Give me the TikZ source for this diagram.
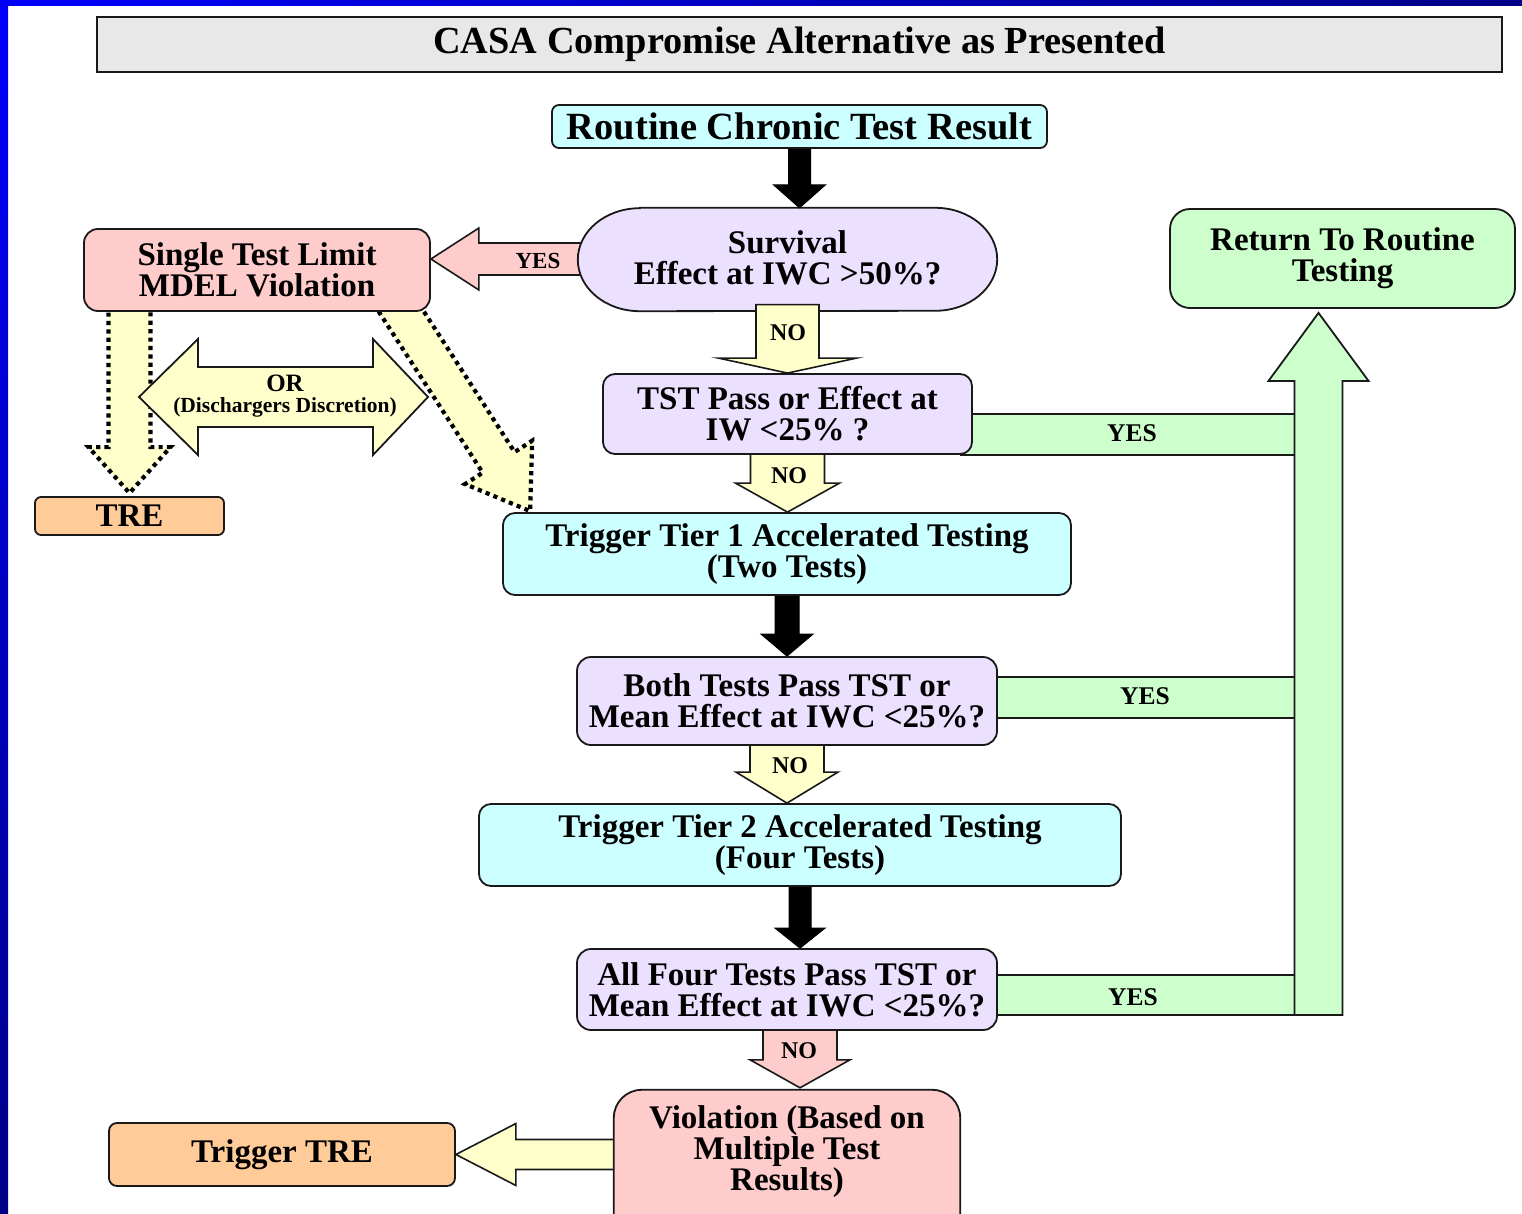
\documentclass[tikz,border=0pt]{standalone}
\usepackage{fontspec}
\setmainfont{Liberation Serif}
\usetikzlibrary{calc}
\pgfdeclarelayer{base}
\pgfdeclarelayer{back}
\pgfsetlayers{base,back,main}

\definecolor{cyanbox}{RGB}{204,255,255}
\definecolor{lavbox}{RGB}{236,224,255}
\definecolor{pinkbox}{RGB}{255,204,204}
\definecolor{greenbox}{RGB}{204,255,204}
\definecolor{orangebox}{RGB}{255,204,153}
\definecolor{yellowarr}{RGB}{255,255,204}
\definecolor{titlegray}{RGB}{232,232,232}
\definecolor{edge}{RGB}{25,25,25}
\definecolor{framebright}{RGB}{0,0,250}
\definecolor{framedark}{RGB}{0,0,135}

% block arrow: #1 style, #2 tail, #3 tip, #4 half shaft, #5 half head, #6 head length
\newcommand{\blockarrow}[6]{%
  \coordinate (bahead) at ($(#3)!#6!(#2)$);
  \draw[#1] ($(#2)!#4!90:(#3)$) -- ($(bahead)!#4!90:(#3)$) -- ($(bahead)!#5!90:(#3)$) -- (#3)
    -- ($(bahead)!#5!-90:(#3)$) -- ($(bahead)!#4!-90:(#3)$) -- ($(#2)!#4!-90:(#3)$) -- cycle;}

\begin{document}
\begin{tikzpicture}[x=1pt,y=-1pt,
  box/.style={draw=edge, line width=1.8pt, inner sep=0pt, align=center,
    font=\bfseries\fontsize{33}{31}\selectfont},
  txt/.style={inner sep=0pt, align=center, font=\bfseries\fontsize{33}{31}\selectfont},
  lbl/.style={inner sep=0pt, font=\bfseries\fontsize{24}{24}\selectfont},
  lblg/.style={inner sep=0pt, font=\bfseries\fontsize{25.5}{25}\selectfont},
  blk/.style={fill=black, draw=black, line width=1pt},
  yarr/.style={fill=yellowarr, draw=edge, line width=1.6pt},
  parr/.style={fill=pinkbox, draw=edge, line width=1.6pt},
  garr/.style={fill=greenbox, draw=edge, line width=1.8pt},
  dotarr/.style={fill=yellowarr, draw=black, line width=4.2pt, dash pattern=on 4.2pt off 4.2pt},
]
\path[use as bounding box] (0,0) rectangle (1522,1214);

\begin{pgfonlayer}{base}
  \fill[white] (0,0) rectangle (1522,1214);
  % slide frame
  \shade[top color=framebright, bottom color=framedark] (0,0) rectangle (8,1214);
  \shade[left color=framebright, right color=framedark] (0,0) rectangle (1522,6);
\end{pgfonlayer}

% boxes
\node[box, fill=titlegray, line width=2.2pt, minimum width=1405pt, minimum height=55pt,
  font=\bfseries\fontsize{38.3}{38}\selectfont] (title) at (799.5,44.5)
  {CASA Compromise Alternative as Presented};
\node[box, fill=cyanbox, rounded corners=7pt, minimum width=495pt, minimum height=43pt,
  font=\bfseries\fontsize{38.5}{38}\selectfont] (routine) at (799.5,126.5)
  {Routine Chronic Test Result};
\node[txt, minimum width=419pt, minimum height=103pt] (surv) at (787.5,258)
  {Survival\\Effect at IWC >50\%?};
\node[box, fill=pinkbox, rounded corners=14pt, minimum width=346pt, minimum height=82pt]
  (single) at (257,270) {Single Test Limit\\MDEL Violation};
\node[box, fill=greenbox, rounded corners=20pt, minimum width=345pt, minimum height=99pt]
  (ret) at (1342.5,258.5) {Return To Routine\\Testing};
\node[box, fill=lavbox, rounded corners=12pt, minimum width=369pt, minimum height=80pt]
  (tst) at (787.5,414) {TST Pass or Effect at\\IW <25\% ?};
\node[box, fill=orangebox, rounded corners=6pt, minimum width=189pt, minimum height=38pt]
  (tre) at (129.5,516) {TRE};
\node[box, fill=cyanbox, rounded corners=12pt, minimum width=568pt, minimum height=82pt]
  (tier1) at (787,554) {Trigger Tier 1 Accelerated Testing\\(Two Tests)};
\node[box, fill=lavbox, rounded corners=14pt, minimum width=420pt, minimum height=88pt]
  (both) at (787,701) {Both Tests Pass TST or\\Mean Effect at IWC <25\%?};
\node[box, fill=cyanbox, rounded corners=12pt, minimum width=642pt, minimum height=82pt]
  (tier2) at (800,845) {Trigger Tier 2 Accelerated Testing\\(Four Tests)};
\node[box, fill=lavbox, rounded corners=14pt, minimum width=420pt, minimum height=81pt]
  (allfour) at (787,989.5) {All Four Tests Pass TST or\\Mean Effect at IWC <25\%?};
\node[txt, minimum width=346pt, minimum height=124pt] (viol) at (787,1152)
  {Violation (Based on\\Multiple Test\\Results)};
\node[box, fill=orangebox, rounded corners=8pt, minimum width=346pt, minimum height=63pt]
  (trig) at (282,1154.5) {Trigger TRE};

% arrow labels
\node[lbl, font=\bfseries\fontsize{23}{23}\selectfont] (yes0) at (538,261) {YES};
\node[lbl] (no1) at (788,333) {NO};
\node[lbl] (no2) at (789,476) {NO};
\node[lbl] (no3) at (790,766) {NO};
\node[lbl] (no4) at (799,1051) {NO};
\node[lblg] (yes1) at (1132,433) {YES};
\node[lblg] (yes2) at (1145,696) {YES};
\node[lblg] (yes3) at (1133,997) {YES};
\node[inner sep=0pt, align=center] (ortext) at (285,396)
  {{\bfseries\fontsize{25}{25}\selectfont OR}\\[5pt]
   {\bfseries\fontsize{21.5}{21}\selectfont (Dischargers Discretion)}};

\begin{pgfonlayer}{back}
  % survival: YES to single test limit
  \coordinate (yA) at ([xshift=10pt,yshift=-1pt]surv.west);
  \coordinate (yB) at (single.east |- yA);
  \blockarrow{parr}{yA}{yB}{16pt}{31pt}{48pt}
  % survival outline (elliptic ends)
  \draw[fill=lavbox, draw=edge, line width=1.8pt]
    ([xshift=62pt,yshift=-1.5pt]surv.north west) -- ([xshift=-62pt,yshift=-1.5pt]surv.north east)
    arc[start angle=90, end angle=-90, x radius=62pt, y radius=51.5pt]
    -- ([xshift=62pt,yshift=-1.5pt]surv.south west)
    arc[start angle=270, end angle=90, x radius=62pt, y radius=51.5pt] -- cycle;

  % black flow arrows
  \coordinate (k1a) at ([yshift=5pt]routine.south);
  \coordinate (k1b) at ([yshift=-1.5pt]routine.south |- surv.north);
  \blockarrow{blk}{k1a}{k1b}{11pt}{26pt}{23pt}
  \coordinate (k2a) at ([yshift=5pt]tier1.south);
  \coordinate (k2b) at (tier1.south |- both.north);
  \blockarrow{blk}{k2a}{k2b}{12pt}{26pt}{22pt}
  \coordinate (k3a) at ([yshift=5pt]tier2.south);
  \coordinate (k3b) at (tier2.south |- allfour.north);
  \blockarrow{blk}{k3a}{k3b}{11pt}{25pt}{20pt}

  % NO arrows
  \coordinate (n1a) at ([yshift=5pt]surv.south);
  \coordinate (n1b) at (surv.south |- tst.north);
  \blockarrow{yarr}{n1a}{n1b}{31.5pt}{69pt}{15pt}
  \coordinate (n2a) at ([yshift=5pt]tst.south);
  \coordinate (n2b) at (tst.south |- tier1.north);
  \blockarrow{yarr}{n2a}{n2b}{37pt}{52pt}{29pt}
  \coordinate (n3a) at ([yshift=5pt]both.south);
  \coordinate (n3b) at (both.south |- tier2.north);
  \blockarrow{yarr}{n3a}{n3b}{37pt}{51pt}{31pt}
  \coordinate (n4a) at ([xshift=13pt,yshift=5pt]allfour.south);
  \coordinate (n4b) at ([yshift=2pt]n4a |- viol.north);
  \blockarrow{parr}{n4a}{n4b}{37pt}{50pt}{28pt}

  % violation to trigger TRE
  \coordinate (tA0) at (viol.west |- trig.east);
  \coordinate (tA) at ([xshift=10pt]tA0);
  \blockarrow{yarr}{tA}{trig.east}{15pt}{31pt}{60pt}
  \draw[fill=pinkbox, draw=edge, line width=1.8pt, rounded corners=28pt]
    (viol.north west) rectangle ([yshift=-40pt]viol.south east);

  % discretionary routes out of the single test limit
  \coordinate (d1a0) at (tre.north |- single.south);
  \coordinate (d1a) at ([yshift=8pt]d1a0);
  \coordinate (d1b) at ([yshift=3pt]tre.north);
  \blockarrow{dotarr}{d1a}{d1b}{21pt}{41pt}{46pt}
  \coordinate (d2a) at ([xshift=-36.5pt,yshift=11pt]single.south east);
  \coordinate (d2b) at ([xshift=28pt,yshift=1pt]tier1.north west);
  \blockarrow{dotarr}{d2a}{d2b}{19pt}{40pt}{58pt}

  % OR double arrow
  \draw[fill=yellowarr, draw=edge, line width=1.8pt]
    (139,397) -- (198,339) -- (198,367) -- (373,367) -- (373,339) -- (428,397)
    -- (373,455) -- (373,427) -- (198,427) -- (198,455) -- cycle;

  % YES returns to routine testing
  \coordinate (gl) at (1294.5,0);
  \draw[garr] ([xshift=-12pt]tst.east) rectangle (gl |- tst.south);
  \draw[garr] ($(both.east)+(-12,-24)$) rectangle (gl |- 0,718);
  \draw[garr] ($(allfour.east)+(-12,-14.5)$) rectangle (gl |- 0,1015);
  \coordinate (gtop) at ([xshift=-24pt,yshift=-4pt]ret.south);
  \coordinate (gbot) at (gtop |- 0,1015);
  \blockarrow{garr}{gbot}{gtop}{24pt}{50pt}{68pt}
\end{pgfonlayer}
\end{tikzpicture}
\end{document}
